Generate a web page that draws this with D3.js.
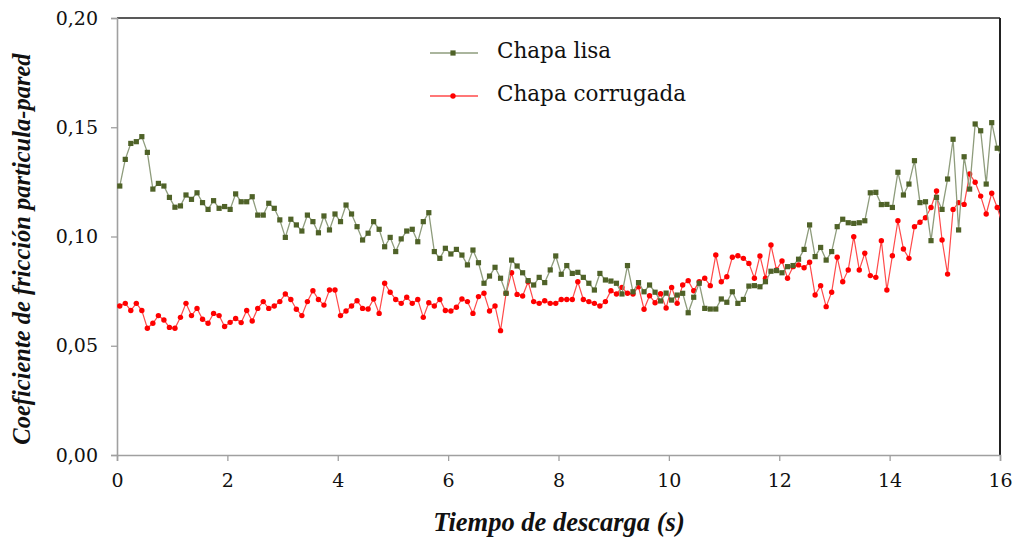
<!DOCTYPE html>
<html>
<head>
<meta charset="utf-8">
<script src="https://cdn.jsdelivr.net/npm/d3@7"></script>
<style>
  html, body { margin: 0; padding: 0; background: #ffffff; }
  svg { display: block; }
</style>
</head>
<body>
<svg id="chart" width="1015" height="539"></svg>
<script>
// ---- data ----
const tiempo = [
0.05,0.15,0.25,0.35,0.45,0.55,0.65,0.75,0.85,0.95,1.05,1.15,1.25,1.35,1.45,1.55,1.65,1.75,1.85,1.95,
2.05,2.15,2.25,2.35,2.45,2.55,2.65,2.75,2.85,2.95,3.05,3.15,3.25,3.35,3.45,3.55,3.65,3.75,3.85,3.95,
4.05,4.15,4.25,4.35,4.45,4.55,4.65,4.75,4.85,4.95,5.05,5.15,5.25,5.35,5.45,5.55,5.65,5.75,5.85,5.95,
6.05,6.15,6.25,6.35,6.45,6.55,6.65,6.75,6.85,6.95,7.05,7.15,7.25,7.35,7.45,7.55,7.65,7.75,7.85,7.95,
8.05,8.15,8.25,8.35,8.45,8.55,8.65,8.75,8.85,8.95,9.05,9.15,9.25,9.35,9.45,9.55,9.65,9.75,9.85,9.95,
10.05,10.15,10.25,10.35,10.45,10.55,10.65,10.75,10.85,10.95,11.05,11.15,11.25,11.35,11.45,11.55,11.65,11.75,11.85,11.95,
12.05,12.15,12.25,12.35,12.45,12.55,12.65,12.75,12.85,12.95,13.05,13.15,13.25,13.35,13.45,13.55,13.65,13.75,13.85,13.95,
14.05,14.15,14.25,14.35,14.45,14.55,14.65,14.75,14.85,14.95,15.05,15.15,15.25,15.35,15.45,15.55,15.65,15.75,15.85,15.95,
16.05];

const chapaLisa = [
0.1231,0.1353,0.1426,0.1434,0.1457,0.1385,0.1217,0.1243,0.1231,0.1179,0.1134,0.1140,0.1190,0.1170,0.1200,0.1155,0.1124,0.1164,0.1129,0.1137,
0.1124,0.1195,0.1159,0.1159,0.1182,0.1098,0.1098,0.1152,0.1129,0.1076,0.0996,0.1079,0.1053,0.1025,0.1098,0.1068,0.1017,0.1094,0.1030,0.1103,
0.1068,0.1144,0.1103,0.1045,0.0984,0.1015,0.1068,0.1033,0.0953,0.0996,0.0931,0.0989,0.1025,0.1033,0.0976,0.1068,0.1109,0.0931,0.0900,0.0946,
0.0920,0.0941,0.0915,0.0870,0.0938,0.0880,0.0786,0.0819,0.0859,0.0809,0.0740,0.0892,0.0865,0.0834,0.0798,0.0778,0.0813,0.0789,0.0847,0.0911,
0.0827,0.0867,0.0831,0.0836,0.0813,0.0786,0.0755,0.0831,0.0801,0.0796,0.0786,0.0737,0.0867,0.0747,0.0789,0.0747,0.0778,0.0745,0.0705,0.0741,
0.0709,0.0732,0.0740,0.0651,0.0722,0.0786,0.0671,0.0668,0.0668,0.0714,0.0699,0.0747,0.0694,0.0712,0.0773,0.0775,0.0770,0.0793,0.0841,0.0844,
0.0834,0.0862,0.0867,0.0896,0.0941,0.1053,0.0908,0.0950,0.0892,0.0931,0.1045,0.1079,0.1063,0.1060,0.1063,0.1072,0.1200,0.1202,0.1146,0.1147,
0.1133,0.1294,0.1190,0.1240,0.1347,0.1155,0.1159,0.0981,0.1179,0.1124,0.1263,0.1445,0.1030,0.1365,0.1217,0.1515,0.1484,0.1240,0.1521,0.1404,
0.1360];

const chapaCorrugada = [
0.0682,0.0694,0.0661,0.0694,0.0661,0.0580,0.0603,0.0638,0.0618,0.0584,0.0580,0.0630,0.0694,0.0638,0.0671,0.0621,0.0603,0.0648,0.0638,0.0588,
0.0607,0.0625,0.0606,0.0661,0.0613,0.0671,0.0702,0.0671,0.0682,0.0702,0.0737,0.0712,0.0667,0.0638,0.0702,0.0752,0.0712,0.0686,0.0755,0.0755,
0.0638,0.0659,0.0682,0.0706,0.0671,0.0668,0.0714,0.0648,0.0786,0.0745,0.0712,0.0694,0.0722,0.0694,0.0712,0.0630,0.0697,0.0682,0.0712,0.0661,
0.0659,0.0676,0.0714,0.0702,0.0648,0.0725,0.0740,0.0659,0.0682,0.0569,0.0740,0.0834,0.0735,0.0728,0.0793,0.0702,0.0694,0.0706,0.0694,0.0694,
0.0712,0.0712,0.0712,0.0793,0.0712,0.0702,0.0694,0.0682,0.0702,0.0752,0.0737,0.0767,0.0740,0.0737,0.0770,0.0667,0.0729,0.0697,0.0738,0.0673,
0.0767,0.0694,0.0778,0.0798,0.0752,0.0793,0.0809,0.0775,0.0915,0.0793,0.0816,0.0905,0.0912,0.0900,0.0877,0.0809,0.0911,0.0809,0.0961,0.0847,
0.0888,0.0809,0.0862,0.0870,0.0857,0.0882,0.0732,0.0775,0.0679,0.0745,0.0905,0.0793,0.0847,0.0999,0.0847,0.0923,0.0821,0.0813,0.0981,0.0755,
0.0912,0.1072,0.0943,0.0900,0.1045,0.1065,0.1086,0.1133,0.1208,0.0984,0.0828,0.1124,0.1155,0.1147,0.1286,0.1248,0.1185,0.1103,0.1198,0.1133,
0.1050];

const xTicks = [0, 2, 4, 6, 8, 10, 12, 14, 16];
const yTicks = [0, 0.05, 0.10, 0.15, 0.20];
const seriesNames = ["Chapa lisa", "Chapa corrugada"];
const xTitle = "Tiempo de descarga (s)";
const yTitle = "Coeficiente de fricción particula-pared";

// ---- drawing ----
const svg = d3.select("#chart");
const pL = 117, pR = 1000, pT = 18, pB = 455;

const x = d3.scaleLinear().domain([0, 16]).range([pL, pR]);
const y = d3.scaleLinear().domain([0, 0.20]).range([pB, pT]);

const fmt = d => d.toFixed(2).replace(".", ",");

// frame top & right (dark)
svg.append("line").attr("x1", pL).attr("x2", pR).attr("y1", pT).attr("y2", pT)
  .attr("stroke", "#222").attr("stroke-width", 1.5);
svg.append("line").attr("x1", pR).attr("x2", pR).attr("y1", pT).attr("y2", pB)
  .attr("stroke", "#222").attr("stroke-width", 2);

// axes
const gy = svg.append("g").attr("transform", `translate(${pL},0)`)
  .call(d3.axisLeft(y).tickValues(yTicks).tickFormat(fmt).tickSize(6).tickPadding(13));
const gx = svg.append("g").attr("transform", `translate(0,${pB})`)
  .call(d3.axisBottom(x).tickValues(xTicks).tickFormat(d3.format("d")).tickSize(6).tickPadding(13));

[gx, gy].forEach(g => {
  g.select(".domain").attr("stroke", "#a0a0a0").attr("stroke-width", 1.6);
  g.selectAll(".tick line").attr("stroke", "#a0a0a0").attr("stroke-width", 1.3);
  g.selectAll(".tick text").attr("font-family", "DejaVu Serif").attr("font-size", 19)
    .attr("fill", "#111");
});

// clip for data
svg.append("clipPath").attr("id", "plotclip").append("rect")
  .attr("x", pL).attr("y", pT - 5).attr("width", pR - pL).attr("height", pB - pT + 5);

const plot = svg.append("g").attr("clip-path", "url(#plotclip)");

const lisa = tiempo.map((t, i) => ({ t, v: chapaLisa[i] }));
const corr = tiempo.map((t, i) => ({ t, v: chapaCorrugada[i] }));

const line = d3.line().x(d => x(d.t)).y(d => y(d.v));

// red series
plot.append("path").datum(corr).attr("d", line).attr("fill", "none")
  .attr("stroke", "#ff4a4a").attr("stroke-width", 1.2);
plot.selectAll("circle.corr").data(corr).join("circle").attr("class", "corr")
  .attr("cx", d => x(d.t)).attr("cy", d => y(d.v)).attr("r", 2.7).attr("fill", "#ff0000");

// green series
plot.append("path").datum(lisa).attr("d", line).attr("fill", "none")
  .attr("stroke", "#8e9c7c").attr("stroke-width", 1.3);
plot.selectAll("rect.lisa").data(lisa).join("rect").attr("class", "lisa")
  .attr("x", d => x(d.t) - 2.6).attr("y", d => y(d.v) - 2.6).attr("width", 5.2).attr("height", 5.2)
  .attr("fill", "#4f6228");

// legend
const lg = svg.append("g");
const legendRows = [
  { name: seriesNames[0], ly: 53, stroke: "#8e9c7c", marker: "rect", color: "#4f6228" },
  { name: seriesNames[1], ly: 96, stroke: "#ff4a4a", marker: "circle", color: "#ff0000" }
];
legendRows.forEach(r => {
  lg.append("line").attr("x1", 430).attr("x2", 478).attr("y1", r.ly).attr("y2", r.ly)
    .attr("stroke", r.stroke).attr("stroke-width", 1.3);
  if (r.marker === "rect") {
    lg.append("rect").attr("x", 453 - 2.6).attr("y", r.ly - 2.6).attr("width", 5.2).attr("height", 5.2)
      .attr("fill", r.color);
  } else {
    lg.append("circle").attr("cx", 453).attr("cy", r.ly).attr("r", 2.7).attr("fill", r.color);
  }
  lg.append("text").attr("x", 497).attr("y", r.ly + 5).text(r.name)
    .attr("font-family", "DejaVu Serif").attr("font-size", 21.5).attr("fill", "#111");
});

// axis titles
svg.append("text").attr("x", 559).attr("y", 531).attr("text-anchor", "middle")
  .attr("font-family", "Liberation Serif").attr("font-style", "italic").attr("font-weight", "bold")
  .attr("font-size", 26.5).attr("fill", "#111").text(xTitle);

svg.append("text").attr("transform", "translate(30,249) rotate(-90)").attr("text-anchor", "middle")
  .attr("font-family", "Liberation Serif").attr("font-style", "italic").attr("font-weight", "bold")
  .attr("font-size", 24.5).attr("fill", "#111").text(yTitle);
</script>
</body>
</html>
